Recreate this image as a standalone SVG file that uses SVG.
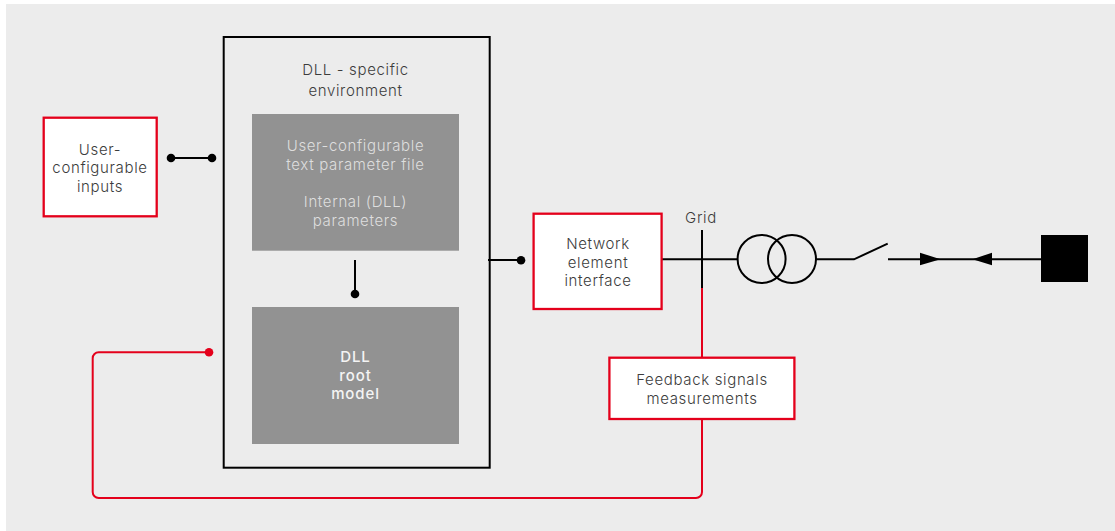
<svg xmlns="http://www.w3.org/2000/svg" width="1115" height="531" viewBox="0 0 1115 531">
<style>
text{font-family:Inter,"Noto Sans","Liberation Sans",sans-serif;font-size:15px;font-weight:300;letter-spacing:.65px;text-anchor:middle;fill:#3c3c3c}
.red{fill:#fff;stroke:#e4001b;stroke-width:2.300}
.gray{fill:#929292}
.l{fill:#dedede}
.b{fill:#f4f4f4;font-weight:500;letter-spacing:.9px}
.k{fill:none;stroke:#000;stroke-width:2}
.r{fill:none;stroke:#e4001b;stroke-width:2}
</style>
<rect x="0" y="0" width="1115" height="531" fill="#fff"/>
<rect x="6" y="4" width="1109" height="527" fill="#ececec"/>
<g id="connectors">
<path class="k" d="M171 158H212M488 260H521M355 260V294M662 259.300H737.500M702 230V288M816 259.300H854L887.700 243.700M888 259.300H1041"/>
<path class="r" d="M702 288V358M702 420V492a6 6 0 0 1-6 6H98.700a6 6 0 0 1-6-6V358.300a6 6 0 0 1 6-6H209"/>
<circle cx="171" cy="158" r="4.300"/><circle cx="212" cy="158" r="4.300"/><circle cx="521" cy="260.300" r="4.300"/><circle cx="355" cy="294" r="4.300"/>
<circle cx="209" cy="352.300" r="4.300" fill="#e4001b"/>
<path d="M920 252.700L940.500 259.300L920 265.200ZM992 252.700L972.500 259.300L992 265.200Z"/>
</g>
<g id="inputs"><rect class="red" x="43.700" y="117.700" width="113" height="98.600"/><text x="100" y="154.500">User-</text><text x="100" y="173">configurable</text><text x="100" y="192">inputs</text></g>
<g id="environment"><rect class="k" x="223.700" y="37" width="266" height="430.700"/><text x="355.500" y="74.500">DLL - specific</text><text x="355.500" y="96">environment</text></g>
<g id="parameters"><rect class="gray" x="252" y="114" width="207" height="136.700"/><text class="l" x="355.500" y="151">User-configurable</text><text class="l" x="355.500" y="170">text parameter file</text><text class="l" x="355.500" y="207">Internal (DLL)</text><text class="l" x="355.500" y="226">parameters</text></g>
<g id="root-model"><rect class="gray" x="252" y="307" width="207" height="137"/><text class="b" x="355.500" y="362">DLL</text><text class="b" x="355.500" y="381">root</text><text class="b" x="355.500" y="399">model</text></g>
<g id="network"><rect class="red" x="533.600" y="213.700" width="128" height="95.300"/><text x="598" y="249">Network</text><text x="598" y="267.500">element</text><text x="598" y="286">interface</text></g>
<g id="grid"><text x="701" y="222.700">Grid</text></g>
<g id="transformer"><circle class="k" cx="761.600" cy="259" r="24"/><circle class="k" cx="792" cy="259" r="24"/></g>
<g id="source"><rect x="1041" y="235" width="47" height="47"/></g>
<g id="feedback"><rect class="red" x="609.400" y="357.700" width="185" height="61.300"/><text x="702" y="385">Feedback signals</text><text x="702" y="404">measurements</text></g>
</svg>
